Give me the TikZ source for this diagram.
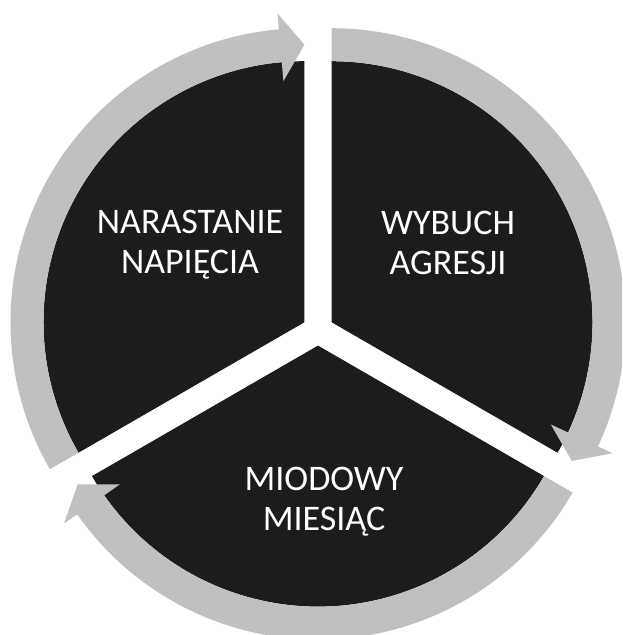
\documentclass[tikz,border=0pt]{standalone}
\usepackage{fontspec}
\setmainfont{Carlito}
\usetikzlibrary{calc}

\definecolor{segdark}{RGB}{28,28,28}
\definecolor{ringgray}{RGB}{192,192,192}

% Rim arrow of one wedge: centre, tail angle, head angle (runs clockwise).
\newcommand{\rimarrow}[3]{%
  \fill[ringgray] ($(#1)+(#2:261)$) arc[start angle=#2, end angle=#3+5, radius=261]
    -- ($(#1)+(#3+5:242)$) -- ($(#1)+(#3:277.5)$) -- ($(#1)+(#3+5:310)$)
    -- ($(#1)+(#3+5:294)$) arc[start angle=#3+5, end angle=#2, radius=294] -- cycle;}

\begin{document}
\begin{tikzpicture}[x=1pt, y=1pt,
    phasetext/.style={text=white, align=center, font=\fontsize{36}{40}\selectfont}]
  \useasboundingbox (0,0) rectangle (622,-635);
  \clip (0,0) rectangle (622,-635);
  % Hub, and each wedge pushed out along its middle.
  \coordinate (hub) at (318,-330);
  \coordinate (hub1) at ($(hub)+(150:15.6)$);
  \coordinate (hub2) at ($(hub)+(30:15.6)$);
  \coordinate (hub3) at ($(hub)+(270:15.6)$);
  % Three dark wedges.
  \fill[segdark] (hub1) -- ++(90:261) arc[start angle=90, end angle=210, radius=261] -- cycle;
  \fill[segdark] (hub2) -- ++(-30:261) arc[start angle=-30, end angle=90, radius=261] -- cycle;
  \fill[segdark] (hub3) -- ++(210:261) arc[start angle=210, end angle=330, radius=261] -- cycle;
  % Grey arrows round the rim.
  \rimarrow{hub1}{210}{90}
  \rimarrow{hub2}{90}{-30}
  \rimarrow{hub3}{-30}{-150}
  % Phase names.
  \node[phasetext] (tension) at (190,-245) {NARASTANIE\\NAPIĘCIA};
  \node[phasetext] (outburst) at (448,-243) {WYBUCH\\AGRESJI};
  \node[phasetext] (honeymoon) at (324,-502) {MIODOWY\\MIESIĄC};
\end{tikzpicture}
\end{document}
